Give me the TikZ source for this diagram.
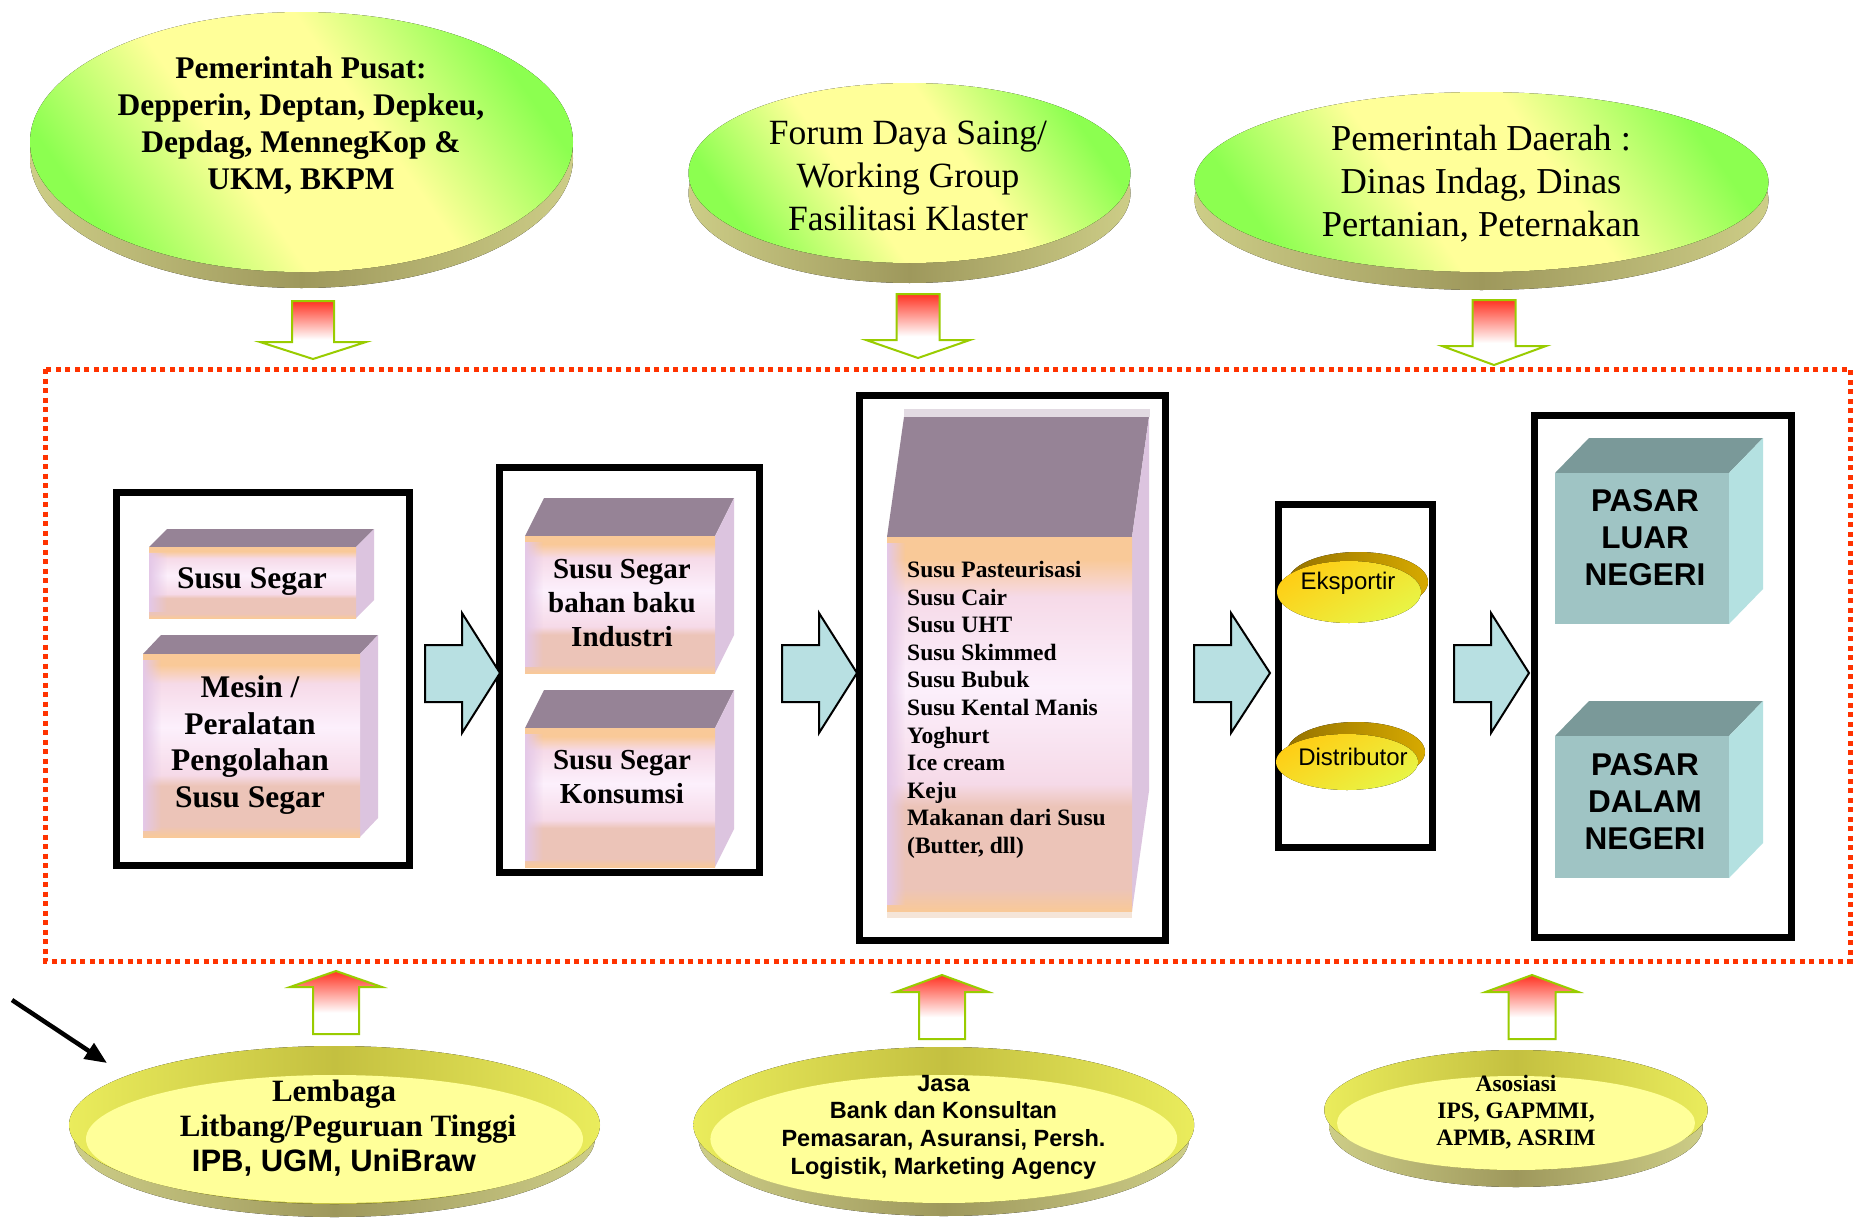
\documentclass[tikz,border=0pt]{standalone}
\usepackage{fontspec}
\setmainfont{Liberation Serif}
\newfontfamily\arialf{Liberation Sans}
\usetikzlibrary{arrows.meta,fadings}

\definecolor{egreen}{RGB}{140,255,80}
\definecolor{eyel}{RGB}{255,255,153}
\definecolor{olL}{RGB}{205,205,135}
\definecolor{olD}{RGB}{158,152,92}
\definecolor{rimL}{RGB}{234,236,92}
\definecolor{rimD}{RGB}{196,192,64}
\definecolor{dishIn}{RGB}{255,255,153}
\definecolor{redA}{RGB}{255,51,34}
\definecolor{arrG}{RGB}{153,204,0}
\definecolor{dotR}{RGB}{255,51,0}
\definecolor{blueA}{RGB}{184,224,226}
\definecolor{ctop}{RGB}{150,131,150}
\definecolor{cside}{RGB}{220,196,223}
\definecolor{cor}{RGB}{249,201,152}
\definecolor{cpk}{RGB}{246,218,232}
\definecolor{cwh}{RGB}{252,240,252}
\definecolor{ctan}{RGB}{236,196,184}
\definecolor{clav}{RGB}{228,200,232}
\definecolor{ptop}{RGB}{122,153,153}
\definecolor{pfront}{RGB}{159,196,196}
\definecolor{pside}{RGB}{180,225,225}
\definecolor{goldD}{RGB}{150,115,0}
\definecolor{goldL}{RGB}{215,170,0}
\definecolor{yelO}{RGB}{255,205,20}
\definecolor{yelL}{RGB}{232,245,70}
\definecolor{haloT}{RGB}{226,218,226}
\definecolor{haloB}{RGB}{245,229,216}

\pgfdeclarehorizontalshading{ellface}{100bp}{color(0bp)=(egreen); color(25bp)=(egreen); color(42bp)=(eyel); color(58bp)=(eyel); color(75bp)=(egreen); color(100bp)=(egreen)}
\pgfdeclareverticalshading{cubefront}{100bp}{color(0bp)=(cor); color(25bp)=(cor); color(28bp)=(ctan); color(39bp)=(ctan); color(42bp)=(cpk); color(55bp)=(cwh); color(67bp)=(cpk); color(72bp)=(cor); color(100bp)=(cor)}
\pgfdeclareverticalshading{redfade}{100bp}{color(0bp)=(white); color(25bp)=(white); color(42bp)=(white); color(75bp)=(redA); color(100bp)=(redA)}
\tikzfading[name=fadeR, left color=transparent!0, right color=transparent!100]

% cx, cy, rx, ry, depth
\newcommand\ellthree[5]{%
  \fill[left color=olL, right color=olL, middle color=olD] (#1,#2+#5) ellipse [x radius=#3pt, y radius=#4pt];
  \fill[shading=ellface, shading angle=35] (#1,#2) ellipse [x radius=#3pt, y radius=#4pt];
}
% cx, cyA, rxA, ryA, shift, rxIn, cyIn, ryIn
\newcommand\dish[8]{%
  \fill[left color=olL, right color=olL, middle color=olD] (#1,#2+#5) ellipse [x radius=#3pt-5pt, y radius=#4pt];
  \fill[left color=rimL, right color=rimL, middle color=rimD] (#1,#2) ellipse [x radius=#3pt, y radius=#4pt];
  \fill[dishIn] (#1,#7) ellipse [x radius=#6pt, y radius=#8pt];
}
% cx, shaft end y, shaft half width, head base y, head half width, tip y
\newcommand\redarrow[6]{%
  \path[shading=redfade, draw=arrG, line width=2pt, line join=miter]
    (#1-#3,#2) -- (#1+#3,#2) -- (#1+#3,#4) -- (#1+#5,#4) -- (#1,#6) -- (#1-#5,#4) -- (#1-#3,#4) -- cycle;
}
% shaft left x, head x, tip x
\newcommand\bluearrow[3]{%
  \path[fill=blueA, draw=black, line width=2pt, line join=miter]
    (#1,645) -- (#2,645) -- (#2,613) -- (#3,673) -- (#2,733) -- (#2,702) -- (#1,702) -- cycle;
}
% x1, y1 (front top), x2, y2 (front bottom), dx, dy
\newcommand\ocube[6]{%
  \fill[ctop] (#1,#2) -- (#1+#5,#2-#6) -- (#3+#5,#2-#6) -- (#3,#2) -- cycle;
  \fill[cside] (#3,#2) -- (#3+#5,#2-#6) -- (#3+#5,#4-#6) -- (#3,#4) -- cycle;
  \path[shading=cubefront] (#1,#2) rectangle (#3,#4);
  \fill[clav, path fading=fadeR] (#1,#2+6) rectangle (#1+18,#4-6);
}
\newcommand\pcube[6]{%
  \fill[ptop] (#1,#2) -- (#1+#5,#2-#6) -- (#3+#5,#2-#6) -- (#3,#2) -- cycle;
  \fill[pside] (#3,#2) -- (#3+#5,#2-#6) -- (#3+#5,#4-#6) -- (#3,#4) -- cycle;
  \fill[pfront] (#1,#2) rectangle (#3,#4);
}

\tikzset{
  blackbox/.style={draw=black, line width=7pt},
  tE1/.style={font=\bfseries\fontsize{31.5}{37}\selectfont, align=center, inner sep=0pt},
  tE2/.style={font=\fontsize{35.5}{43}\selectfont, align=center, inner sep=0pt},
  tE3/.style={font=\fontsize{36.5}{43}\selectfont, align=center, inner sep=0pt},
  tC1/.style={font=\bfseries\fontsize{31.5}{36.5}\selectfont, align=center, inner sep=0pt},
  tC2/.style={font=\bfseries\fontsize{29}{34}\selectfont, align=center, inner sep=0pt},
  tList/.style={font=\bfseries\fontsize{23.5}{27.6}\selectfont, align=left, inner sep=0pt},
  tYel/.style={font=\arialf\fontsize{24}{28}\selectfont, inner sep=0pt},
  tPas/.style={font=\arialf\bfseries\fontsize{31.5}{37}\selectfont, align=center, inner sep=0pt},
  tLem/.style={font=\bfseries\fontsize{31}{35}\selectfont, align=center, inner sep=0pt},
  tJas/.style={font=\arialf\bfseries\fontsize{23.5}{27.7}\selectfont, align=center, inner sep=0pt},
  tAso/.style={font=\bfseries\fontsize{23.5}{26.7}\selectfont, align=center, inner sep=0pt},
}

\begin{document}
\begin{tikzpicture}[x=1pt,y=-1pt]
\useasboundingbox (0,0) rectangle (1861,1218);
\fill[white] (0,0) rectangle (1861,1218);

% top ellipses
\ellthree{301.5}{142}{271.5}{130}{16}
\ellthree{909.5}{173}{221}{90}{20}
\ellthree{1481.5}{182}{287}{90}{18}

% down arrows
\redarrow{313}{301}{21}{342}{53}{359}
\redarrow{918}{294}{21.5}{340}{52}{358}
\redarrow{1494}{300}{21.5}{346}{52}{365}

% dotted frame
\draw[dotR, line width=5pt, dash pattern=on 5pt off 4.5pt] (45,369) rectangle (1850,961);

% boxes
\draw[blackbox] (116.3,492.5) rectangle (409.5,865.3);
\draw[blackbox] (499.5,467.5) rectangle (759.5,872.5);
\draw[blackbox] (859,395) rectangle (1165.5,940);
\draw[blackbox] (1278,504.5) rectangle (1432.5,847.5);
\draw[blackbox] (1534.5,415.5) rectangle (1791,937.7);

% cubes
\ocube{149}{547}{356}{618}{18}{18}
\ocube{143}{654}{360}{837}{18}{19}
\ocube{525}{536}{715}{673}{19}{38}
\ocube{525}{728}{715}{867}{19}{38}
\fill[haloT] (904,409) rectangle (1150,417);
\fill[haloB] (887,911) rectangle (1132,918);
\ocube{887}{537}{1132}{911}{17}{120}
\pcube{1555}{473}{1729}{624}{34}{35}
\pcube{1555}{736}{1729}{878}{34}{35}

% flow arrows
\bluearrow{425}{462}{500}
\bluearrow{782}{819}{857}
\bluearrow{1194}{1231}{1270}
\bluearrow{1454}{1491}{1529}

% yellow ellipses
\fill[left color=goldD, right color=goldL] (1358,582) ellipse [x radius=70pt, y radius=30pt];
\fill[left color=yelO, right color=yelL, shading angle=30] (1349,592) ellipse [x radius=72pt, y radius=31pt];
\fill[left color=goldD, right color=goldL] (1356,752) ellipse [x radius=69pt, y radius=30pt];
\fill[left color=yelO, right color=yelL, shading angle=30] (1347,762) ellipse [x radius=71pt, y radius=28pt];

% up arrows
\redarrow{336}{1034}{23}{987}{46}{971}
\redarrow{942}{1039}{23}{992}{46.5}{975}
\redarrow{1532}{1039}{23.5}{992}{46.5}{975}

% dishes
\dish{334.5}{1125}{265.5}{79}{13}{248.5}{1139}{64}
\dish{943.8}{1125}{250.4}{78}{13}{233.4}{1139}{64}
\dish{1516}{1110}{191.7}{60}{17}{179}{1123}{47}

% black pointer
\coordinate (ptrS) at (12,1000);
\coordinate (ptrE) at (107,1063);
\draw[line width=4.5pt, -{Triangle[length=22pt,width=18pt]}] (ptrS) -- (ptrE);

% texts
\node[tE1] (pusat) at (301,126) {Pemerintah Pusat:\\Depperin, Deptan, Depkeu,\\Depdag, MennegKop \&\\UKM, BKPM};
\node[tE2] (forum) at (908,176) {Forum Daya Saing/\\Working Group\\Fasilitasi Klaster};
\node[tE3] (daerah) at (1481,184) {Pemerintah Daerah :\\Dinas Indag, Dinas\\Pertanian, Peternakan};

\node[tC1] (segar) at (252,582) {Susu Segar};
\node[tC1] (mesin) at (250,745) {Mesin /\\Peralatan\\Pengolahan\\Susu Segar};
\node[tC2] (industri) at (622,603) {Susu Segar\\bahan baku\\Industri};
\node[tC2] (konsumsi) at (622,777) {Susu Segar\\Konsumsi};
\node[tList, anchor=north west] (produk) at (907,561) {Susu Pasteurisasi\\Susu Cair\\Susu UHT\\Susu Skimmed\\Susu Bubuk\\Susu Kental Manis\\Yoghurt\\Ice cream\\Keju\\Makanan dari Susu\\(Butter, dll)};
\node[tYel] (eksportir) at (1348,583) {Eksportir};
\node[tYel] (distributor) at (1353,757) {Distributor};
\node[tPas] (luar) at (1645,538) {PASAR\\LUAR\\NEGERI};
\node[tPas] (dalam) at (1645,802) {PASAR\\DALAM\\NEGERI};

\node[tLem] (lembaga) at (334,1128) {Lembaga\\\hspace*{28pt}Litbang/Peguruan Tinggi\\{\arialf IPB, UGM, UniBraw}};
\node[tJas] (jasa) at (943.5,1127) {Jasa\\Bank dan Konsultan\\Pemasaran, Asuransi, Persh.\\Logistik, Marketing Agency};
\node[tAso] (asosiasi) at (1516,1112) {Asosiasi\\IPS, GAPMMI,\\APMB, ASRIM};
\end{tikzpicture}
\end{document}
